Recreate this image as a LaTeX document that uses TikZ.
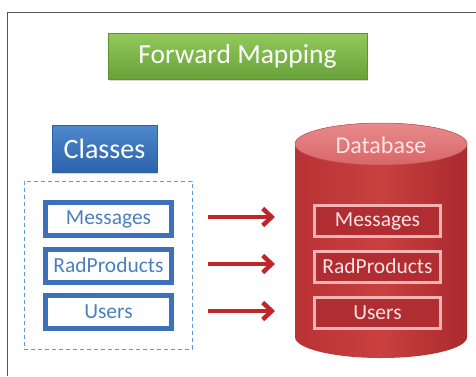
\documentclass[tikz,border=0pt]{standalone}
\usepackage{fontspec}
\setmainfont{Carlito}
\usetikzlibrary{arrows.meta,shadows}
\definecolor{grtop}{HTML}{93C95B}
\definecolor{grbot}{HTML}{68A23A}
\definecolor{bltop}{HTML}{4F88CC}
\definecolor{blbot}{HTML}{2C63AC}
\definecolor{blborder}{HTML}{3D72BA}
\definecolor{bltext}{HTML}{4C7FC0}
\definecolor{dashblue}{HTML}{5B9BD5}
\definecolor{arrowred}{HTML}{C0272D}
\definecolor{cylL}{HTML}{B93235}
\definecolor{cylM}{HTML}{C9403F}
\definecolor{cylR}{HTML}{AA2A2E}
\definecolor{topA}{HTML}{E88A8B}
\definecolor{topB}{HTML}{D96668}
\definecolor{pinkb}{HTML}{F4B4B4}
\definecolor{itemfill}{HTML}{B02D31}
\definecolor{itemtext}{HTML}{FCE4E4}
\definecolor{framegray}{HTML}{555555}
\tikzset{
  titlebox/.style={rectangle, top color=grtop, bottom color=grbot, draw=grbot!90!black, line width=0.4pt,
    text=white, font=\fontsize{27.5}{31}\selectfont, minimum width=259pt, minimum height=46pt, inner sep=0pt,
    drop shadow={opacity=0.3, shadow xshift=1pt, shadow yshift=-2pt}},
  classbox/.style={rectangle, top color=bltop, bottom color=blbot, draw=blbot, line width=0.4pt,
    text=white, font=\fontsize{28}{32}\selectfont, minimum width=105pt, minimum height=47pt, inner sep=0pt,
    drop shadow={opacity=0.3, shadow xshift=1pt, shadow yshift=-2pt}},
  groupbox/.style={rectangle, draw=dashblue, line width=1pt, dash pattern=on 4pt off 3pt,
    minimum width=168pt, minimum height=168pt, inner sep=0pt},
  citem/.style={rectangle, draw=blborder, line width=5pt, fill=white, text=bltext,
    font=\fontsize{21.5}{25}\selectfont, minimum width=126pt, minimum height=33pt, inner sep=0pt,
    drop shadow={opacity=0.25, shadow xshift=1pt, shadow yshift=-1.5pt}},
  ditem/.style={rectangle, draw=pinkb, line width=3pt, fill=itemfill, text=itemtext,
    font=\fontsize{21.5}{25}\selectfont, minimum width=126pt, minimum height=31pt, inner sep=0pt},
  maparrow/.style={draw=arrowred, line width=4.5pt, -{Straight Barb[length=9pt,width=17pt]}},
}
\begin{document}
\begin{tikzpicture}[x=1pt,y=-1pt]
\useasboundingbox (0,0) rectangle (476,376);
\fill[white] (0,0) rectangle (476,376);
% frame
\draw[framegray, line width=1pt] (7,376) -- (7,12) -- (476,12);
% title
\node[titlebox] (title) at (237.5,56) {Forward Mapping};
% classes
\node[classbox] (classes) at (104.5,148.5) {Classes};
\node[groupbox] (group) at (108,265) {};
\node[citem] (cm) at (108.5,219) {Messages};
\node[citem] (cr) at (108.5,265.5) {RadProducts};
\node[citem] (cu) at (108.5,312) {Users};
% database cylinder
\shade[left color=cylL, right color=cylR, middle color=cylM]
  (295,144) -- (295,337) arc[start angle=180, end angle=0, x radius=86, y radius=21]
  -- (467,144) arc[start angle=0, end angle=-180, x radius=86, y radius=21] -- cycle;
\shade[top color=topA, bottom color=topB] (381,144) ellipse[x radius=86, y radius=21];
\draw[topB!85!black, line width=0.5pt] (381,144) ellipse[x radius=86, y radius=21];
\node[text=itemtext, font=\fontsize{24}{28}\selectfont, inner sep=0pt] (db) at (381,145) {Database};
\node[ditem] (dm) at (377.5,221) {Messages};
\node[ditem] (dr) at (377.5,266.5) {RadProducts};
\node[ditem] (du) at (377.5,312.5) {Users};
% arrows
\coordinate (a1) at (208,217); \coordinate (b1) at (275,217);
\coordinate (a2) at (208,264); \coordinate (b2) at (275,264);
\coordinate (a3) at (208,311); \coordinate (b3) at (275,311);
\draw[maparrow] (a1) -- (b1);
\draw[maparrow] (a2) -- (b2);
\draw[maparrow] (a3) -- (b3);
\end{tikzpicture}
\end{document}
